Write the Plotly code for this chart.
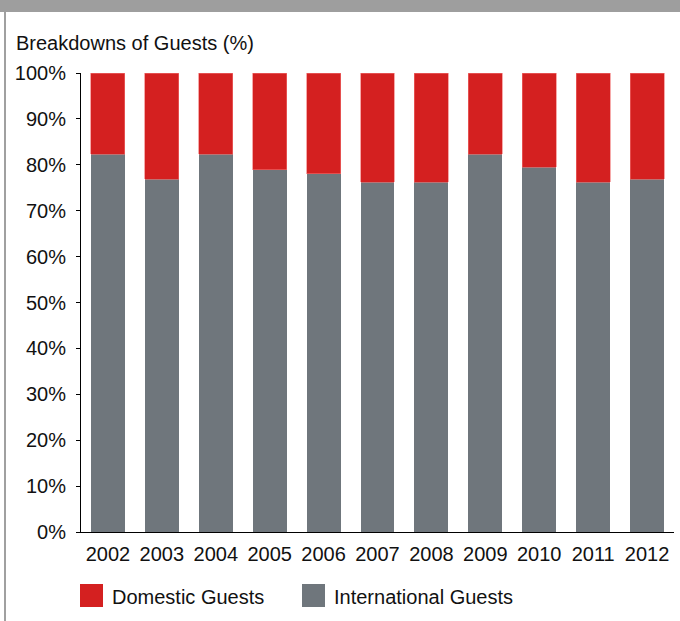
import plotly.graph_objects as go

years = ["2002", "2003", "2004", "2005", "2006", "2007", "2008", "2009", "2010", "2011", "2012"]
international = [82.3, 76.8, 82.3, 78.9, 78.1, 76.2, 76.2, 82.3, 79.5, 76.2, 76.9]
domestic = [17.7, 23.2, 17.7, 21.1, 21.9, 23.8, 23.8, 17.7, 20.5, 23.8, 23.1]
y_ticks = [0, 10, 20, 30, 40, 50, 60, 70, 80, 90, 100]
y_tick_labels = ["0%", "10%", "20%", "30%", "40%", "50%", "60%", "70%", "80%", "90%", "100%"]
title_text = "Breakdowns of Guests (%)"
legend_names = ["Domestic Guests", "International Guests"]

RED = "#d42020"
GRAY = "#6f767c"
FONT = "Liberation Sans, Arial, sans-serif"

W, H = 680, 621
L, R, T, B = 81, 6, 73, 89
pw = W - L - R
ph = H - T - B

def px(x):
    return (x - L) / pw

def py(y):
    return (H - B - y) / ph

fig = go.Figure()
fig.add_trace(go.Bar(x=years, y=international, name=legend_names[1],
                     marker=dict(color=GRAY, line=dict(width=0)), showlegend=False))
fig.add_trace(go.Bar(x=years, y=domestic, name=legend_names[0],
                     marker=dict(color=RED, line=dict(color="#f07070", width=0.6)), showlegend=False))

shapes = [
    dict(type="rect", xref="paper", yref="paper", x0=px(0), x1=px(W), y0=py(12), y1=py(0),
         fillcolor="#9e9e9e", line=dict(width=0), layer="above"),
    dict(type="line", xref="paper", yref="paper", x0=px(5), x1=px(5), y0=py(12), y1=py(H),
         line=dict(color="#a0a0a0", width=2)),
    dict(type="rect", xref="paper", yref="paper", x0=px(80), x1=px(103), y0=py(607), y1=py(584),
         fillcolor=RED, line=dict(width=0)),
    dict(type="rect", xref="paper", yref="paper", x0=px(302), x1=px(325), y0=py(607), y1=py(584),
         fillcolor=GRAY, line=dict(width=0)),
]
annotations = [
    dict(text=title_text, xref="paper", yref="paper", x=px(14), y=py(43), xanchor="left",
         yanchor="middle", showarrow=False, font=dict(size=20, color="#111", family=FONT)),
    dict(text=legend_names[0], xref="paper", yref="paper", x=px(110), y=py(597), xanchor="left",
         yanchor="middle", showarrow=False, font=dict(size=20, color="#111", family=FONT)),
    dict(text=legend_names[1], xref="paper", yref="paper", x=px(332), y=py(597), xanchor="left",
         yanchor="middle", showarrow=False, font=dict(size=20, color="#111", family=FONT)),
]

fig.update_layout(
    width=W, height=H,
    margin=dict(l=L, r=R, t=T, b=B),
    barmode="stack", bargap=0.37,
    plot_bgcolor="white", paper_bgcolor="white",
    font=dict(family=FONT, size=20, color="#111"),
    shapes=shapes, annotations=annotations,
    xaxis=dict(showline=True, linecolor="black", linewidth=1, ticks="", showgrid=False,
               tickfont=dict(size=20), ticklabelstandoff=4),
    yaxis=dict(range=[0, 100], tickmode="array", tickvals=y_ticks, ticktext=y_tick_labels,
               showline=True, linecolor="black",
               linewidth=1, ticks="outside", ticklen=4, tickcolor="black", showgrid=False,
               zeroline=False, tickfont=dict(size=20), ticklabelstandoff=6),
)

fig.write_html("out.html")
